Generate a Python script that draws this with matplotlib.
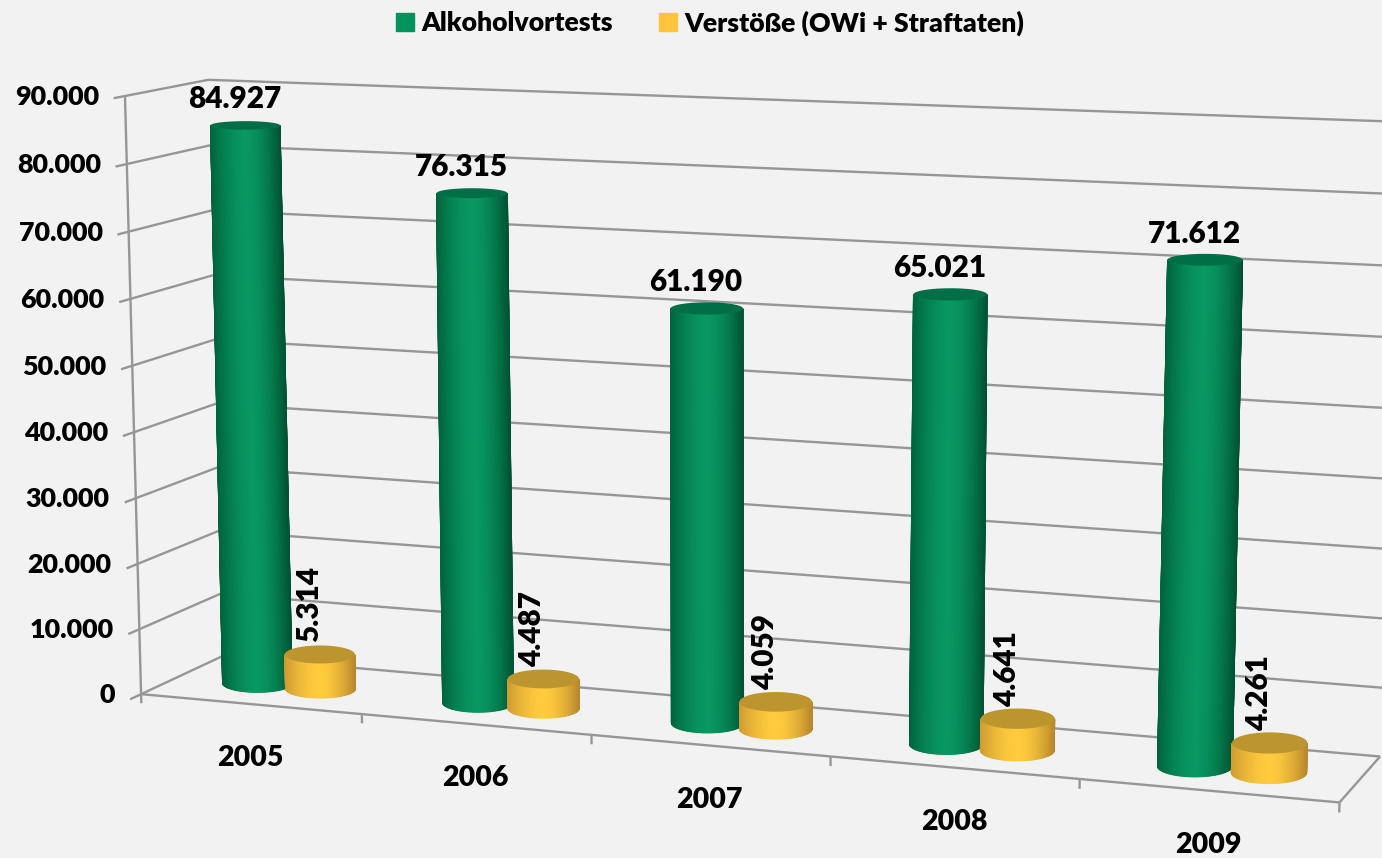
import numpy as np
import matplotlib
matplotlib.use("Agg")
import matplotlib.pyplot as plt
from matplotlib.colors import ListedColormap
from matplotlib.patches import Polygon, Patch

# ---- data ----
years = ["2005", "2006", "2007", "2008", "2009"]
alkoholvortests = [84927, 76315, 61190, 65021, 71612]
verstoesse = [5314, 4487, 4059, 4641, 4261]
value_ticks = [0, 10000, 20000, 30000, 40000, 50000, 60000, 70000, 80000, 90000]
series_names = ["Alkoholvortests", "Verstöße (OWi + Straftaten)"]

def de(v):
    return f"{v:,}".replace(",", ".")

# ---- perspective camera, calibrated on the chart box corners ----
W, H = 1382, 858
VMAX = 90000.0
calib = [
    ((0, 0, 0), (141, 694)), ((0, 0, 1), (125, 96)), ((0, 1, 1), (208, 80)),
    ((0, 1, 0), (222, 656)), ((5, 0, 0), (1340, 802)), ((5, 1, 0), (1380, 757)),
    ((5, 1, 1), (1398, 122)), ((1, 0, 0), (362, 715)), ((2, 0, 0), (591, 735)),
    ((3, 0, 0), (831, 757)), ((4, 0, 0), (1079, 778)), ((0, 0, 8/9), (127, 164)),
    ((0, 1, 8/9), (210, 145)), ((5, 1, 8/9), (1396, 194)),
]
A, b = [], []
for (X, Y, Z), (x, y) in calib:
    A.append([X, Y, Z, 1, 0, 0, 0, 0, -x*X, -x*Y, -x*Z]); b.append(x)
    A.append([0, 0, 0, 0, X, Y, Z, 1, -y*X, -y*Y, -y*Z]); b.append(y)
p = np.linalg.lstsq(np.array(A, float), np.array(b, float), rcond=None)[0]
P = np.append(p, 1.0).reshape(3, 4)

def proj(u, d, v):
    u, d, v = np.broadcast_arrays(np.asarray(u, float), np.asarray(d, float), np.asarray(v, float))
    q = P @ np.stack([u, d, v / VMAX, np.ones_like(u)])
    return q[0] / q[2], q[1] / q[2]

# ---- figure ----
BG = "#F2F2F2"
LINE = "#969696"
BLACK = "#000000"
WEIGHT = 800
plt.rcParams["font.family"] = ["Lato", "DejaVu Sans"]
plt.rcParams["font.weight"] = WEIGHT
fig = plt.figure(figsize=(W / 100, H / 100), dpi=100, facecolor=BG)
ax = fig.add_axes([0, 0, 1, 1])
ax.set_xlim(0, W); ax.set_ylim(H, 0); ax.axis("off")

def seg(pts, lw=1.7):
    x, y = proj(*np.array(pts, float).T)
    ax.plot(x, y, color=LINE, lw=lw, solid_capstyle="butt", zorder=1)

n = len(years)
TICK_FS, LABEL_FS, YEAR_FS = 19.4, 21.4, 20.5
for v in value_ticks:
    seg([(-0.0, -0.13, v), (0, 0, v), (0, 1, v), (n, 1, v)])
    x, y = proj(0, 0, v)
    ax.text(float(x) - 26, float(y) + 1, de(v), ha="right", va="center", fontsize=TICK_FS, color=BLACK)
seg([(0, 0, 0), (0, 0, VMAX)])
seg([(0, 0, 0), (n, 0, 0), (n, 1, 0)])
for i in range(n + 1):
    seg([(i, 0, 0), (i, 0, -1400)])

def shade_cmap(left, mid, right):
    q = np.linspace(-1, 1, 256)
    w = (1 - np.abs(q) ** 1.7)[:, None]
    edge = np.where(q[:, None] < 0, np.array(left)[None, :], np.array(right)[None, :]) / 255
    return ListedColormap(edge * (1 - w) + np.array(mid)[None, :] / 255 * w)

GREEN = dict(cmap=shade_cmap((0, 100, 62), (8, 152, 96), (0, 84, 52)), top="#006F47")
GOLD = dict(cmap=shade_cmap((208, 156, 50), (255, 204, 62), (186, 136, 44)), top="#BD952E")
SHIFT, OFFSET, RD, D0 = 0.008, 0.145, 0.24, 0.465

def ellipse(uc, value):
    """Centre and half axes of the cylinder's cross section on screen."""
    cx, cy = proj(uc, D0, value)
    _, yf = proj(uc, D0 - RD, value)
    _, yk = proj(uc, D0 + RD, value)
    return float(cx), float(cy), 34.8 + (float(cx) - 246) * 0.0028, abs(float(yf - yk)) / 2

def cylinder(uc, value, style, z):
    bx, by, bw, bh = ellipse(uc, 0)
    tx, ty, tw, th = ellipse(uc, value)
    t = np.linspace(np.pi, 0, 61)
    c, s = np.cos(t), np.sin(t)
    X = np.vstack([bx + bw * c, tx + tw * c])
    Y = np.vstack([by + bh * s, ty + th * s])
    Q = np.vstack([c, c])
    ax.pcolormesh(X, Y, Q, shading="gouraud", cmap=style["cmap"], vmin=-1, vmax=1, zorder=z)
    a = np.linspace(0, 2 * np.pi, 90)
    ax.add_patch(Polygon(np.c_[tx + tw * np.cos(a), ty + th * np.sin(a)], closed=True,
                         fc=style["top"], ec="none", zorder=z + 0.1))

for i in range(n):
    uc = i + 0.5 + SHIFT
    cylinder(uc - OFFSET, alkoholvortests[i], GREEN, 2 + i)
    cylinder(uc + OFFSET, verstoesse[i], GOLD, 2.5 + i)
    x, y = proj(uc - OFFSET, D0, alkoholvortests[i])
    ax.text(float(x) - 11, float(y) - 26, de(alkoholvortests[i]), ha="center", va="center",
            fontsize=LABEL_FS, color=BLACK, zorder=20)
    x, y = proj(uc + OFFSET, D0, verstoesse[i])
    ax.text(float(x) - 11, float(y) - 50, de(verstoesse[i]), ha="center", va="center",
            rotation=90, fontsize=LABEL_FS, color=BLACK, zorder=20)
    x, y = proj(i + 0.5, 0, 0)
    ax.text(float(x), float(y) + 54, years[i], ha="center", va="center", fontsize=YEAR_FS, color=BLACK)

leg_fs = 19.2
leg = ax.legend(handles=[Patch(color="#00945A", label=series_names[0]), Patch(color="#FFC33C", label=series_names[1])],
                loc="center", bbox_to_anchor=(710 / W, 1 - 23 / H), ncol=2, frameon=False,
                fontsize=leg_fs, handlelength=0.66, handleheight=0.66,
                handletextpad=0.27, columnspacing=1.75, borderpad=0, labelcolor=BLACK)
fig.savefig("out.png", dpi=100, facecolor=BG)
